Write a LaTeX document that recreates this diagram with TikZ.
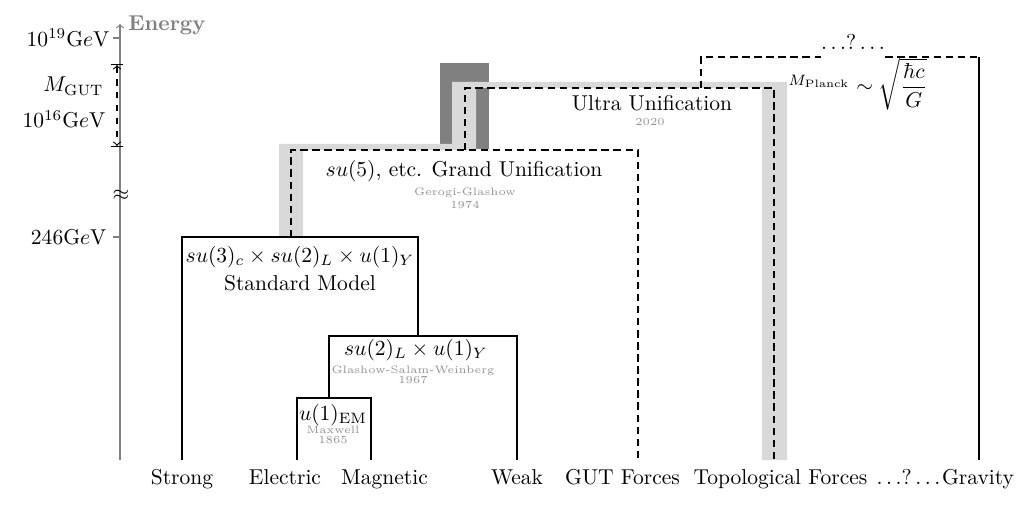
\documentclass[tikz,border=0pt]{standalone}
\usepackage{amsmath}
\begin{document}
\begin{tikzpicture}[x=0.465pt,y=-0.465pt,
  branch/.style={line width=0.85pt},
  dbranch/.style={line width=0.85pt,dash pattern=on 3.4pt off 2.2pt},
  lbl/.style={anchor=base,inner sep=0pt},
  note/.style={anchor=base,inner sep=0pt,font=\tiny,text=gray!85},
  axisline/.style={gray,line width=0.5pt},
  scalelbl/.style={inner sep=0pt}]
\useasboundingbox (0,0) rectangle (1023,507);

% bands
\fill[gray] (440,63) rectangle (489,149);
\fill[gray!30] (279,237) -- (279,144) -- (452,144) -- (452,82) -- (787,82) -- (787,460)
  -- (762,460) -- (762,88) -- (476,88) -- (476,150) -- (303,150) -- (303,237) -- cycle;

% energy axis
\coordinate (axB) at (120,460);
\coordinate (axT) at (120,24);
\draw[axisline,->] (axB) -- (axT);
\node[anchor=base west,inner sep=0pt,text=gray,font=\bfseries] (energy) at (128,31) {Energy};
\coordinate (t19) at (120,38);
\coordinate (t246) at (120,237);
\draw[axisline] (t19) -- ++(-7,0);
\draw[axisline] (t246) -- ++(-7,0);
\node[scalelbl,anchor=east] (e19) at (110,38) {$10^{19}\mathrm{G}e\mathrm{V}$};
\node[scalelbl,anchor=base east] (mgut) at (104,92) {$M_{\mathrm{GUT}}$};
\node[scalelbl,anchor=base east] (e16) at (106,128) {$10^{16}\mathrm{G}e\mathrm{V}$};
\node[scalelbl,anchor=east] (e246) at (107,237) {$246\mathrm{G}e\mathrm{V}$};
\coordinate (gutA) at (117,64);
\coordinate (gutB) at (117,147);
\draw[line width=0.5pt,dashed,|<->|] (gutA) -- (gutB);
\node[scalelbl] (approx) at (121,195) {$\approx$};

% leaf bottoms
\coordinate (strongB) at (182,460);
\coordinate (elecB) at (297,460);
\coordinate (magB) at (371,460);
\coordinate (weakB) at (517,460);
\coordinate (gutfB) at (638,460);
\coordinate (topoB) at (774,460);
\coordinate (gravB) at (979,460);

% standard model tree
\coordinate (smL) at (182,237);
\coordinate (smR) at (418,237);
\coordinate (smD) at (418,336);
\coordinate (ewL) at (329,336);
\coordinate (ewR) at (517,336);
\coordinate (ewD) at (329,398);
\coordinate (emL) at (297,398);
\coordinate (emR) at (371,398);
\draw[branch] (strongB) -- (smL) -- (smR) -- (smD);
\draw[branch] (ewD) -- (ewL) -- (ewR) -- (weakB);
\draw[branch] (elecB) -- (emL) -- (emR) -- (magB);

% GUT
\coordinate (gutL) at (291,237);
\coordinate (gutTL) at (291,150);
\coordinate (gutTR) at (638,150);
\draw[dbranch] (gutL) -- (gutTL) -- (gutTR) -- (gutfB);

% Ultra
\coordinate (uL) at (465,150);
\coordinate (uTL) at (465,88);
\coordinate (uTR) at (774,88);
\draw[dbranch] (uL) -- (uTL) -- (uTR) -- (topoB);

% top unknown
\node[lbl] (qtop) at (853,50) {$\ldots?\ldots$};
\coordinate (qL) at (701,88);
\coordinate (qTL) at (701,57);
\coordinate (qTR) at (979,57);
\draw[dbranch] (qL) -- (qTL) -- (qtop.west |- qTL);
\draw[dbranch] (qtop.east |- qTR) -- (qTR);
\draw[branch] (qTR) -- (gravB);

% labels
\node[lbl] (sm1) at (300,262) {$su(3)_c\times su(2)_L\times u(1)_Y$};
\node[lbl] (sm2) at (300,290) {Standard Model};
\node[lbl] (ew1) at (416,355) {$su(2)_L\times u(1)_Y$};
\node[note] (ew2) at (413,373) {Glashow-Salam-Weinberg};
\node[note] (ew3) at (413,383) {1967};
\node[lbl] (em1) at (333,420) {$u(1)_{\mathrm{EM}}$};
\node[note] (em2) at (333,433) {Maxwell};
\node[note] (em3) at (333,443) {1865};
\node[lbl] (gut1) at (464,177) {$su(5)$, etc. Grand Unification};
\node[note] (gut2) at (465,196) {Gerogi-Glashow};
\node[note] (gut3) at (465,209) {1974};
\node[lbl] (ul1) at (652,111) {Ultra Unification};
\node[note] (ul2) at (650,126) {2020};
\node[anchor=base west,inner sep=0pt] (planck) at (788,93) {$^{M_{\mathrm{Planck}}}\sim\sqrt{\dfrac{\hbar c}{G}}$};

% leaf labels
\node[lbl] (strong) at (182,484) {Strong};
\node[lbl] (elec) at (285,484) {Electric};
\node[lbl] (mag) at (384.5,484) {Magnetic};
\node[lbl] (weak) at (517,484) {Weak};
\node[lbl] (gutf) at (622.5,484) {GUT Forces};
\node[lbl] (topo) at (780.5,484) {Topological Forces};
\node[lbl] (qbot) at (908.5,484) {$\ldots?\ldots$};
\node[lbl] (grav) at (978,484) {Gravity};
\end{tikzpicture}
\end{document}
